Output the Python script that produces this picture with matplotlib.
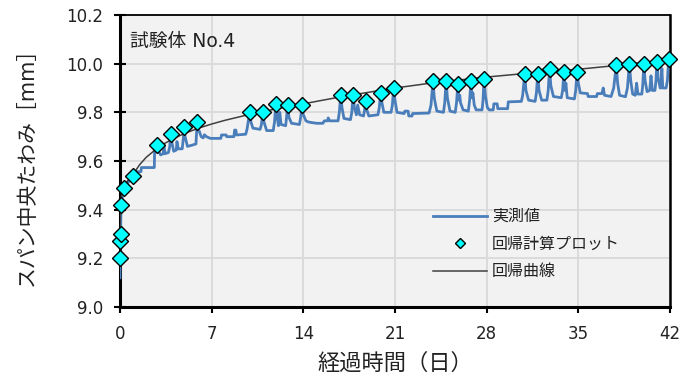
import matplotlib
matplotlib.use("Agg")
import matplotlib.pyplot as plt
from matplotlib.ticker import FormatStrFormatter

plt.rcParams['font.family'] = ['DejaVu Sans', 'Noto Sans CJK JP']

# ---------------- data ----------------
# regression calculation plot (markers)
calc_t = [0.0, 0.02, 0.04, 0.08, 0.33, 1.0,
          2.85, 3.87, 4.89, 5.9,
          9.9, 10.9, 11.9, 12.8, 13.9,
          16.85, 17.8, 18.75, 19.9, 20.9,
          23.9, 24.9, 25.8, 26.8, 27.8,
          30.9, 31.9, 32.8, 33.9, 34.9,
          37.9, 38.9, 40.0, 41.0, 41.9]
calc_v = [9.20, 9.27, 9.30, 9.42, 9.49, 9.54,
          9.666, 9.71, 9.74, 9.76,
          9.80, 9.80, 9.833, 9.83, 9.83,
          9.87, 9.87, 9.847, 9.88, 9.90,
          9.928, 9.93, 9.918, 9.928, 9.936,
          9.958, 9.958, 9.98, 9.967, 9.967,
          9.995, 10.0, 10.0, 10.008, 10.02]

# regression curve
curve_t = [0.0, 0.005, 0.01, 0.02, 0.04, 0.08, 0.15, 0.25, 0.4, 0.6, 0.8, 1.0,
           1.5, 2.0, 3.0, 4.0, 5.0, 6.0, 7.0, 8.0, 10.0, 12.0, 14.0,
           17.0, 21.0, 24.0, 28.0, 31.0, 35.0, 38.0, 42.0]
curve_v = [9.20, 9.26, 9.30, 9.35, 9.40, 9.44, 9.465, 9.485, 9.505, 9.52, 9.532, 9.545,
           9.585, 9.615, 9.66, 9.69, 9.715, 9.735, 9.752, 9.767, 9.793, 9.815, 9.835,
           9.865, 9.900, 9.922, 9.945, 9.960, 9.977, 9.993, 10.018]

meas_t = [0.0, 0.0, 0.02, 0.04, 0.08, 0.2, 0.33, 0.6, 1.0, 1.15, 1.6, 1.63, 2.62, 2.65, 2.85,
          2.95, 3.1, 3.3, 3.35, 3.45, 3.7, 3.8, 3.87,
          3.95, 4.1, 4.3, 4.35, 4.45, 4.75, 4.85, 4.89,
          4.97, 5.15, 5.5, 5.8, 5.85, 5.9,
          6.0, 6.2, 6.35, 6.45, 6.6, 6.9, 7.7, 7.75, 8.1, 8.15, 8.7, 8.75, 8.85, 8.9,
          9.6, 9.7, 9.9,
          10.0, 10.15, 10.7, 10.8, 10.9,
          11.0, 11.2, 11.7, 11.8, 11.9,
          12.0, 12.1, 12.2, 12.3, 12.65, 12.72, 12.8,
          12.9, 13.1, 13.7, 13.8, 13.9,
          14.0, 14.2, 14.4, 15.0, 15.5, 15.6, 15.85, 15.9, 16.0, 16.65, 16.75, 16.85,
          16.95, 17.1, 17.6, 17.7, 17.8,
          17.9, 18.05, 18.15, 18.3, 18.6, 18.68, 18.75,
          18.85, 19.0, 19.7, 19.8, 19.9,
          20.0, 20.15, 20.7, 20.8, 20.9,
          21.0, 21.15, 21.7, 21.75, 22.0, 22.05, 22.3, 22.35, 23.6, 23.75, 23.9,
          24.0, 24.1, 24.2, 24.7, 24.8, 24.9,
          25.0, 25.2, 25.6, 25.7, 25.8,
          25.88, 25.95, 26.0, 26.2, 26.6, 26.7, 26.8,
          26.88, 26.95, 27.05, 27.2, 27.65, 27.72, 27.8,
          27.9, 28.05, 28.2, 28.5, 28.55, 28.8, 28.85, 29.6, 29.65, 30.65, 30.75, 30.9,
          31.0, 31.2, 31.7, 31.8, 31.9,
          32.0, 32.2, 32.6, 32.7, 32.8,
          32.9, 33.1, 33.7, 33.8, 33.9,
          33.98, 34.05, 34.15, 34.7, 34.8, 34.9,
          35.0, 35.15, 35.7, 35.75, 36.4, 36.45, 36.8, 36.9, 37.0, 37.5, 37.7, 37.9,
          38.0, 38.15, 38.6, 38.75, 38.9,
          39.0, 39.15, 39.35, 39.45, 39.55, 39.85, 39.93, 40.0,
          40.1, 40.25, 40.45, 40.55, 40.65, 40.85, 40.93, 41.0,
          41.1, 41.25, 41.3, 41.38, 41.45, 41.7, 41.8, 41.9]
meas_v = [9.12, 9.20, 9.27, 9.30, 9.42, 9.46, 9.49, 9.51, 9.54, 9.556, 9.556, 9.573, 9.573, 9.655, 9.666,
          9.64, 9.625, 9.63, 9.66, 9.63, 9.635, 9.66, 9.71,
          9.68, 9.64, 9.645, 9.68, 9.65, 9.65, 9.70, 9.74,
          9.70, 9.66, 9.665, 9.67, 9.72, 9.76,
          9.73, 9.70, 9.695, 9.708, 9.70, 9.693, 9.693, 9.707, 9.707, 9.70, 9.70, 9.727, 9.727, 9.707,
          9.71, 9.73, 9.80,
          9.76, 9.735, 9.73, 9.75, 9.80,
          9.76, 9.725, 9.725, 9.76, 9.833,
          9.78, 9.745, 9.80, 9.75, 9.745, 9.78, 9.83,
          9.78, 9.755, 9.75, 9.78, 9.83,
          9.79, 9.765, 9.76, 9.755, 9.755, 9.765, 9.765, 9.777, 9.765, 9.765, 9.80, 9.87,
          9.82, 9.775, 9.77, 9.80, 9.87,
          9.82, 9.79, 9.83, 9.79, 9.785, 9.81, 9.847,
          9.81, 9.785, 9.79, 9.82, 9.88,
          9.84, 9.80, 9.80, 9.83, 9.90,
          9.85, 9.80, 9.795, 9.805, 9.805, 9.785, 9.785, 9.795, 9.797, 9.83, 9.928,
          9.86, 9.83, 9.805, 9.80, 9.84, 9.93,
          9.86, 9.805, 9.80, 9.84, 9.918,
          9.85, 9.87, 9.84, 9.81, 9.805, 9.85, 9.928,
          9.86, 9.88, 9.83, 9.81, 9.81, 9.85, 9.936,
          9.87, 9.82, 9.81, 9.81, 9.835, 9.835, 9.815, 9.815, 9.843, 9.845, 9.87, 9.958,
          9.89, 9.85, 9.845, 9.88, 9.958,
          9.89, 9.85, 9.85, 9.89, 9.98,
          9.91, 9.865, 9.86, 9.89, 9.967,
          9.89, 9.92, 9.86, 9.855, 9.89, 9.967,
          9.92, 9.88, 9.877, 9.865, 9.865, 9.877, 9.877, 9.90, 9.87, 9.865, 9.90, 9.995,
          9.92, 9.87, 9.864, 9.90, 10.0,
          9.93, 9.875, 9.87, 9.92, 9.875, 9.875, 9.92, 10.0,
          9.93, 9.885, 9.89, 9.95, 9.89, 9.89, 9.93, 10.008,
          9.94, 9.90, 9.90, 9.98, 9.90, 9.90, 9.93, 10.02]

x_ticks = [0, 7, 14, 21, 28, 35, 42]
y_ticks = [9.0, 9.2, 9.4, 9.6, 9.8, 10.0, 10.2]

title_text = "試験体 No.4"
x_label = "経過時間（日）"
y_label = "スパン中央たわみ［mm］"
legend_labels = ["実測値", "回帰計算プロット", "回帰曲線"]

# ---------------- drawing ----------------
fig = plt.figure(figsize=(6.98, 3.81), dpi=100)
ax = fig.add_axes([120/698, 1-307/381, 550/698, 292/381])
ax.set_facecolor('#f2f2f2')

l1, = ax.plot(meas_t, meas_v, color='#4a7ebb', lw=2.0, zorder=3, label=legend_labels[0],
              solid_joinstyle='round')
l3, = ax.plot(curve_t, curve_v, color='#404040', lw=1.1, zorder=3.5, label=legend_labels[2])
l2, = ax.plot(calc_t, calc_v, linestyle='none', marker='D', markersize=8,
              markerfacecolor='#00ffff', markeredgecolor='black', markeredgewidth=1.0,
              zorder=5, clip_on=False, label=legend_labels[1])

ax.set_xlim(0, 42)
ax.set_ylim(9.0, 10.2)
ax.set_xticks(x_ticks)
ax.set_yticks(y_ticks)
ax.yaxis.set_major_formatter(FormatStrFormatter('%.1f'))
ax.grid(True, color='#d9d9d9', lw=1.3, zorder=0)
ax.set_axisbelow(True)

for side in ['left', 'bottom']:
    ax.spines[side].set_linewidth(2.2)
ax.spines['right'].set_linewidth(1.8)
ax.spines['top'].set_linewidth(1.3)
for s in ax.spines.values():
    s.set_color('black')

ax.tick_params(axis='y', direction='inout', length=8, width=1.5, labelsize=12, pad=8,
               colors='black', labelcolor='#222222')
ax.tick_params(axis='x', direction='out', length=4, width=1.5, labelsize=12, pad=9,
               colors='black', labelcolor='#222222')

ax.set_xlabel(x_label, fontsize=16, labelpad=7, color='#222222')
ax.set_ylabel(y_label, fontsize=15, labelpad=21, color='#222222')

ax.text(0.018, 0.91, title_text, transform=ax.transAxes, fontsize=13.5,
        ha='left', va='center', color='#222222')

leg = ax.legend(handles=[l1, l2, l3], loc='upper left', bbox_to_anchor=(0.569, 0.335),
                frameon=False, fontsize=11.5, handlelength=3.4, handletextpad=0.3,
                labelspacing=0.78, borderpad=0, borderaxespad=0, markerscale=0.6)
for t in leg.get_texts():
    t.set_color('#222222')

fig.savefig('out.png', dpi=100, facecolor='white')
